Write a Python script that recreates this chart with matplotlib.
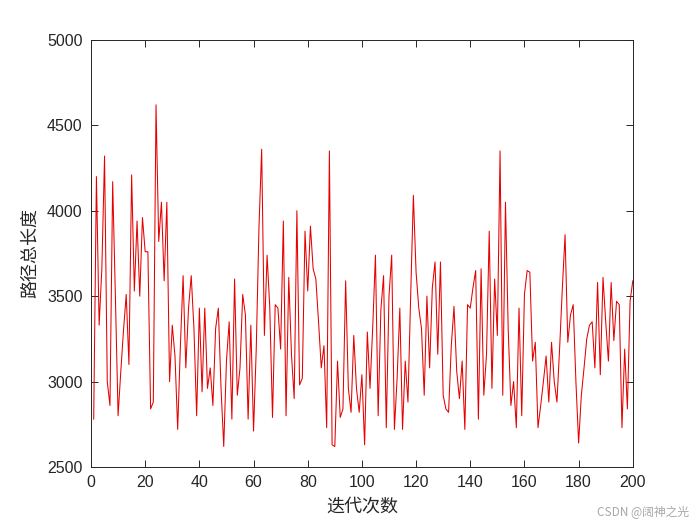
import matplotlib
matplotlib.use("Agg")
import matplotlib.pyplot as plt

iterations = list(range(1, 201))
path_length = [
    2780, 4200, 3330, 3660, 4320, 3000, 2860, 4170, 3500, 2800,
    3060, 3300, 3510, 3100, 4210, 3530, 3940, 3500, 3960, 3760,
    3760, 2840, 2880, 4620, 3820, 4050, 3590, 4050, 3000, 3330,
    3150, 2720, 3210, 3620, 3080, 3430, 3620, 3310, 2800, 3430,
    2940, 3430, 2960, 3080, 2860, 3310, 3430, 2960, 2620, 3120,
    3350, 2780, 3600, 2920, 3080, 3510, 3390, 2780, 3330, 2710,
    3190, 3900, 4360, 3270, 3740, 3430, 2790, 3450, 3430, 3190,
    3940, 2800, 3610, 3160, 2900, 4000, 2980, 3020, 3880, 3530,
    3910, 3660, 3600, 3350, 3080, 3210, 2730, 4350, 2630, 2620,
    3120, 2790, 2840, 3590, 2960, 2820, 3270, 2960, 2820, 3040,
    2630, 3290, 2960, 3320, 3740, 2800, 3420, 3620, 2730, 3500,
    3740, 2720, 3020, 3430, 2720, 3120, 2880, 3500, 4090, 3640,
    3430, 3310, 2920, 3500, 3080, 3550, 3700, 3160, 3700, 2920,
    2840, 2820, 3210, 3440, 3060, 2900, 3120, 2720, 3450, 3430,
    3550, 3650, 2780, 3660, 2920, 3160, 3880, 2960, 3600, 3270,
    4350, 2920, 4050, 3310, 2860, 3000, 2730, 3430, 2800, 3510,
    3650, 3640, 3120, 3230, 2730, 2860, 3000, 3150, 2880, 3230,
    3000, 2880, 3200, 3550, 3860, 3230, 3390, 3450, 3000, 2640,
    2920, 3080, 3250, 3330, 3350, 3080, 3580, 3040, 3610, 3350,
    3120, 3580, 3240, 3470, 3450, 2730, 3190, 2840, 3470, 3590,
]
xticks = list(range(0, 201, 20))
yticks = list(range(2500, 5001, 500))
xlabel = "迭代次数"
ylabel = "路径总长度"
watermark = "CSDN @阔神之光"

plt.rcParams['font.family'] = ['Liberation Sans', 'Noto Sans CJK SC', 'DejaVu Sans']

fig = plt.figure(figsize=(7, 5.25), dpi=100)
ax = fig.add_axes([0.13, 0.1105, 0.774, 0.8135])
ax.plot(iterations, path_length, color=(0.9, 0, 0), linewidth=0.75)
ax.set_xlim(0, 200)
ax.set_ylim(2500, 5000)
ax.set_xticks(xticks)
ax.set_yticks(yticks)
ax.tick_params(direction='in', length=5, width=0.7, top=True, right=True,
               labelsize=11.5, colors='#262626', pad=6)
for s in ax.spines.values():
    s.set_linewidth(0.7)
    s.set_color('#262626')
ax.set_xlabel(xlabel, family=['Noto Sans CJK SC'], fontsize=13, color='#262626', labelpad=5)
ax.set_ylabel(ylabel, family=['Noto Sans CJK SC'], fontsize=13, color='#262626', labelpad=6)
fig.text(0.985, 0.012, watermark, ha='right', va='bottom', fontsize=8.5,
         color='#a8a8a8', family=['Noto Sans CJK SC', 'DejaVu Sans'])
fig.savefig("out.png", dpi=100)
